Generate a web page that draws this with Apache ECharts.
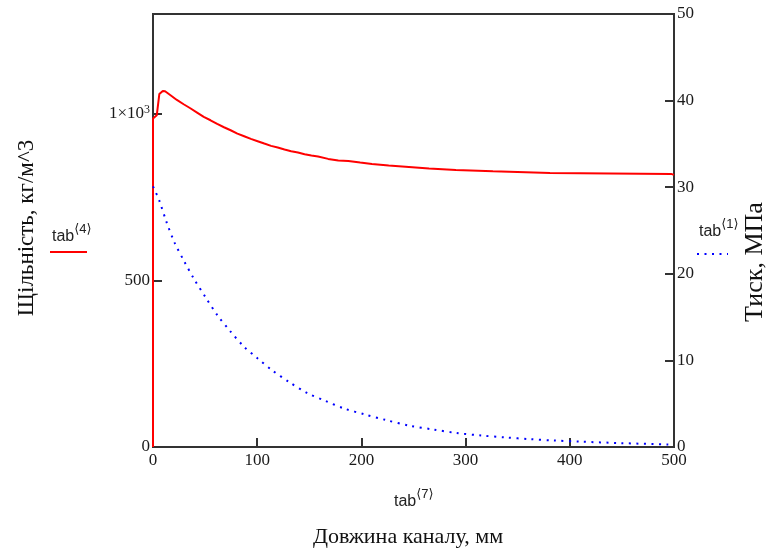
<!DOCTYPE html>
<html>
<head>
<meta charset="utf-8">
<script src="https://cdn.jsdelivr.net/npm/echarts@6/dist/echarts.min.js"></script>
<style>
html,body{margin:0;padding:0;background:#fff;}
#chart{width:776px;height:548px;}
</style>
</head>
<body>
<div id="chart"></div>
<script>
// Channel length (mm) for the density series, tab<7>
const lengthRed = [0, 0, 3.6, 6.1, 9.4, 11.6, 16.5, 22.9, 29.4, 35.8, 42.3, 48.7, 55.2, 61.6, 68.1, 74.5, 81.0, 87.5, 93.9, 100.4, 106.8, 113.3, 119.7, 126.2, 132.6, 139.1, 145.5, 152.0, 158.4, 168.1, 177.8, 187.5, 198.8, 210.1, 226.2, 245.6, 264.9, 290.7, 326.2, 381.0, 497.2, 500];
// Density (kg/m^3), tab<4>
const density = [0, 986, 996, 1060, 1069, 1068, 1057, 1042, 1029, 1017, 1004, 991, 981, 970, 960, 951, 941, 933, 925, 918, 911, 904, 899, 893, 888, 884, 879, 875, 872, 865, 860, 859, 854, 850, 845, 841, 836, 832, 828, 823, 820, 817];
// Channel length (mm) for the pressure series
const lengthBlue = [0, 5.9, 12.9, 20.7, 29.7, 39.4, 50.4, 61.9, 73.9, 86.8, 100.7, 114.2, 130.4, 147.8, 164.9, 183.7, 203.0, 223.7, 246.5, 269.1, 290.8, 314.9, 338.2, 361.7, 384.3, 410.1, 448.8, 494.0, 500];
// Pressure (MPa), tab<1>
const pressure = [30.1, 28.5, 26.0, 23.6, 21.5, 19.4, 17.3, 15.2, 13.4, 11.65, 10.2, 8.87, 7.52, 6.24, 5.35, 4.43, 3.77, 3.11, 2.45, 2.02, 1.62, 1.33, 1.10, 0.91, 0.75, 0.62, 0.45, 0.29, 0.27];

const xTicks = [0, 100, 200, 300, 400, 500];
const leftTicks = [0, 500, 1000];
const rightTicks = [0, 10, 20, 30, 40, 50];

const serif = '"Liberation Serif", "DejaVu Serif", serif';
const sans = '"Liberation Sans", Arial, "DejaVu Sans", sans-serif';
const axisCol = '#333';

const chart = echarts.init(document.getElementById('chart'), null, {renderer: 'canvas'});

const redData = lengthRed.map((x, i) => [x, density[i]]);
const blueData = lengthBlue.map((x, i) => [x, pressure[i]]);

chart.setOption({
  animation: false,
  backgroundColor: '#fff',
  grid: {left: 153, right: 102, top: 14, bottom: 101, show: true, borderColor: axisCol, borderWidth: 2, backgroundColor: 'transparent'},
  xAxis: {
    type: 'value', min: 0, max: 500, interval: 100,
    axisLine: {show: true, lineStyle: {color: axisCol, width: 2}},
    axisTick: {show: true, inside: true, length: 9, lineStyle: {color: axisCol, width: 2}},
    splitLine: {show: false},
    axisLabel: {color: '#1a1a1a', fontFamily: serif, fontSize: 17, margin: 5,
      formatter: v => xTicks.includes(v) ? String(v) : ''}
  },
  yAxis: [{
    type: 'value', min: 0, max: 1300, interval: 500, position: 'left',
    axisLine: {show: true, lineStyle: {color: axisCol, width: 2}},
    axisTick: {show: true, inside: true, length: 9, lineStyle: {color: axisCol, width: 2}},
    splitLine: {show: false},
    axisLabel: {color: '#1a1a1a', fontFamily: serif, fontSize: 17, margin: 3,
      formatter: v => v === 1000 ? '1×10{sup|3}' : (leftTicks.includes(v) ? String(v) : ''),
      rich: {sup: {fontSize: 12, fontFamily: serif, color: '#1a1a1a', padding: [0, 0, 9, 0]}}}
  }, {
    type: 'value', min: 0, max: 50, interval: 10, position: 'right',
    axisLine: {show: true, lineStyle: {color: axisCol, width: 2}},
    axisTick: {show: true, inside: true, length: 9, lineStyle: {color: axisCol, width: 2}},
    splitLine: {show: false},
    axisLabel: {color: '#1a1a1a', fontFamily: serif, fontSize: 17, margin: 3,
      formatter: v => rightTicks.includes(v) ? String(v) : ''}
  }],
  series: [{
    type: 'line', name: 'tab4', yAxisIndex: 0, data: redData, showSymbol: false, symbol: 'none',
    lineStyle: {color: '#ff0000', width: 2}, z: 3
  }, {
    type: 'line', name: 'tab1', yAxisIndex: 1, data: blueData, showSymbol: false, symbol: 'none', smooth: 0.3,
    lineStyle: {color: '#0000ff', width: 2, type: [2, 5.5]}, z: 3
  }],
  graphic: [
    {type: 'text', x: 27, y: 228, rotation: Math.PI / 2,
      style: {text: 'Щільність, кг/м^3', font: '23px ' + serif, fill: '#111', align: 'center', verticalAlign: 'middle'}},
    {type: 'text', x: 755, y: 262, rotation: Math.PI / 2,
      style: {text: 'Тиск, МПа', font: '26px ' + serif, fill: '#111', align: 'center', verticalAlign: 'middle'}},
    {type: 'text', x: 408, y: 537,
      style: {text: 'Довжина каналу, мм', font: '22px ' + serif, fill: '#111', align: 'center', verticalAlign: 'middle'}},
    {type: 'text', x: 394, y: 502,
      style: {text: 'tab{sup|⟨7⟩}', font: '16px ' + sans, fill: '#222', align: 'left', verticalAlign: 'middle',
        rich: {sup: {fontSize: 13, fontFamily: sans, fill: '#222', padding: [0, 0, 16, 0]}}}},
    {type: 'text', x: 52, y: 237,
      style: {text: 'tab{sup|⟨4⟩}', font: '16px ' + sans, fill: '#222', align: 'left', verticalAlign: 'middle',
        rich: {sup: {fontSize: 13, fontFamily: sans, fill: '#222', padding: [0, 0, 16, 0]}}}},
    {type: 'line', shape: {x1: 50, y1: 252, x2: 87, y2: 252}, style: {stroke: '#ff0000', lineWidth: 2}},
    {type: 'text', x: 699, y: 232,
      style: {text: 'tab{sup|⟨1⟩}', font: '16px ' + sans, fill: '#222', align: 'left', verticalAlign: 'middle',
        rich: {sup: {fontSize: 13, fontFamily: sans, fill: '#222', padding: [0, 0, 16, 0]}}}},
    {type: 'line', shape: {x1: 697, y1: 254, x2: 728, y2: 254}, style: {stroke: '#0000ff', lineWidth: 2, lineDash: [2, 5.5]}}
  ]
});
</script>
</body>
</html>
